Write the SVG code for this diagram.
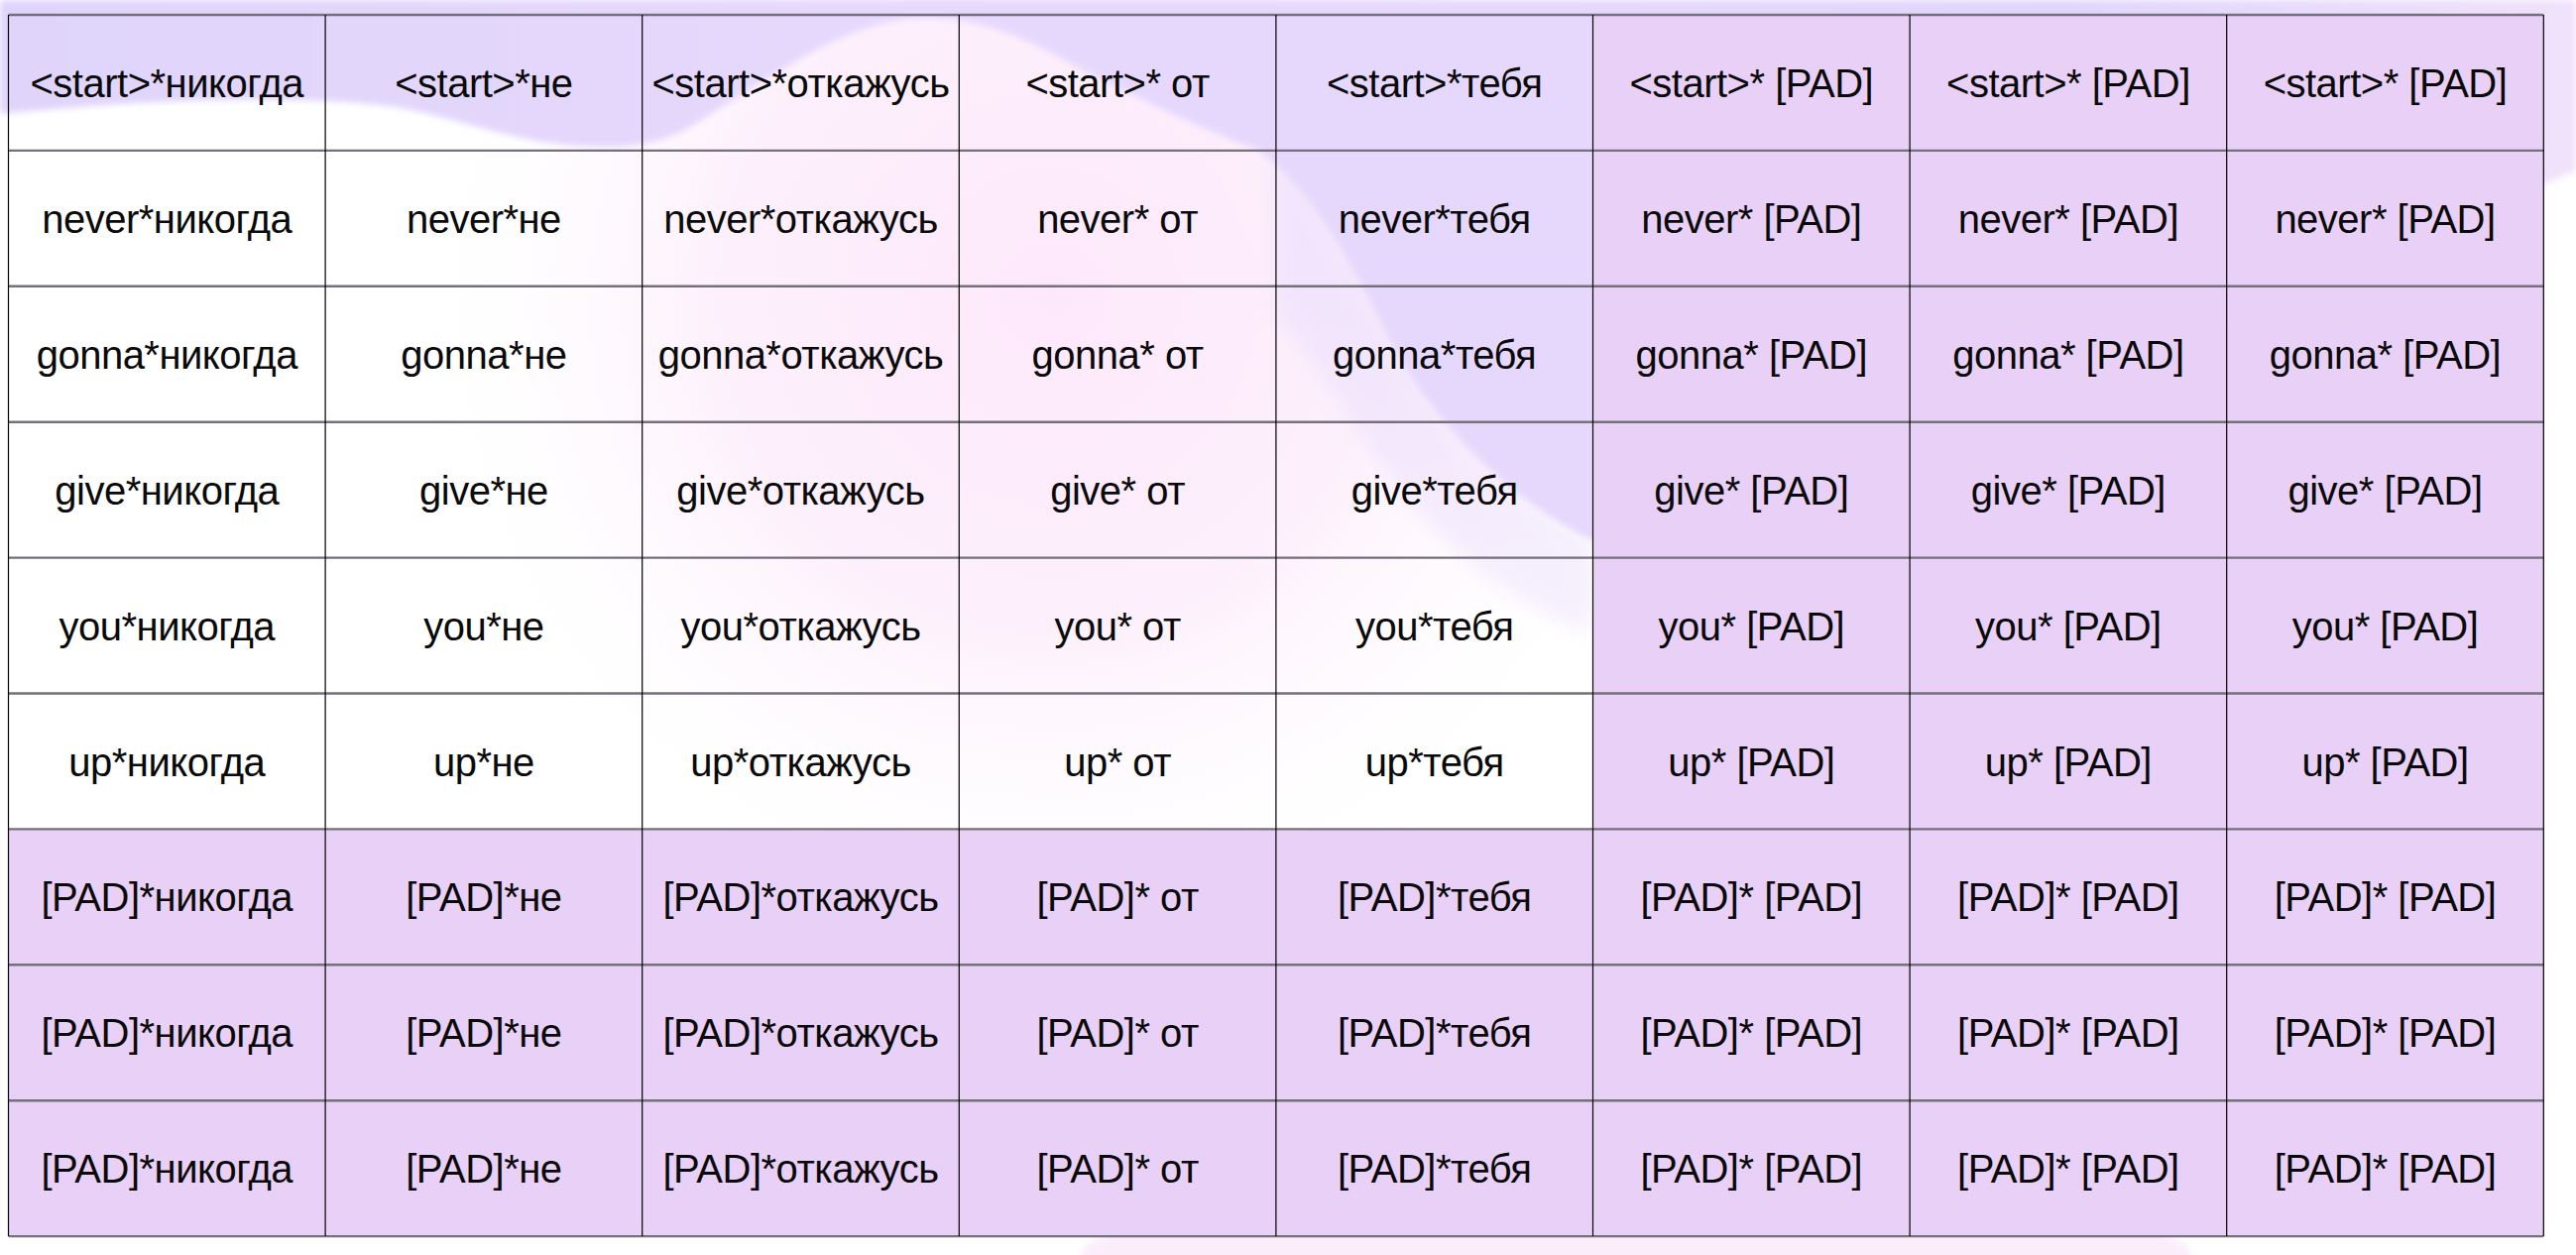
<svg xmlns="http://www.w3.org/2000/svg" width="2598" height="1266" viewBox="0 0 2598 1266">
<defs>
<style>
.t{font-family:"Liberation Sans",Arial,sans-serif;font-size:40px;letter-spacing:-0.5px;fill:#0a0a0a;text-anchor:middle}
.e{fill:none}
.p{fill:#e9d0f6}
.h{stroke:#74707c;stroke-width:2.4;fill:none}
.v{stroke:#000;stroke-width:1.2;fill:none}
</style>
<linearGradient id="lav" x1="0" y1="0" x2="1" y2="0">
<stop offset="0" stop-color="#e0d4fb"/>
<stop offset="0.35" stop-color="#e6d9fc"/>
<stop offset="0.6" stop-color="#e6d8fc"/>
<stop offset="0.8" stop-color="#e0d6fc"/>
<stop offset="1" stop-color="#f1e2fb"/>
</linearGradient>
<radialGradient id="pink" cx="1060" cy="300" r="660" gradientUnits="userSpaceOnUse">
<stop offset="0" stop-color="#fde8fb"/>
<stop offset="0.5" stop-color="#fdf0fc"/>
<stop offset="1" stop-color="#ffffff" stop-opacity="0"/>
</radialGradient>
<linearGradient id="lav2" x1="0" y1="0" x2="0" y2="1">
<stop offset="0" stop-color="#e6dafc"/>
<stop offset="1" stop-color="#efe3fc"/>
</linearGradient>
<filter id="soft" x="-10%" y="-10%" width="120%" height="120%"><feGaussianBlur stdDeviation="3"/></filter>
<filter id="softer" x="-20%" y="-20%" width="140%" height="140%"><feGaussianBlur stdDeviation="10"/></filter>
</defs>

<g id="background">
<rect x="0" y="0" width="2598" height="1266" fill="#ffffff"/>
<rect x="0" y="0" width="2598" height="1266" fill="url(#pink)"/>
<ellipse cx="1650" cy="1266" rx="560" ry="70" fill="#fcecfb" opacity="0.9" filter="url(#soft)"/>
<path d="M1287,160 C1330,200 1360,260 1400,330 C1450,420 1520,500 1606,545 L1606,640 C1500,600 1420,520 1360,420 C1330,370 1300,330 1287,320 Z" fill="url(#lav2)" opacity="0.55" filter="url(#softer)"/>
<path d="M0,0 H2598 V172 L1700,560 L1606,545 C1520,505 1440,420 1400,340 C1370,280 1330,200 1270,152 C1200,125 1150,100 1090,70 C1040,40 990,18 935,18 C860,18 790,70 712,118 C680,140 650,150 600,148 C520,146 460,118 400,108 C300,95 150,100 0,115 Z" fill="url(#lav)" filter="url(#soft)"/>
</g>

<g id="cells">
<g id="cell-r1-c1"><rect class="e" x="8.5" y="15" width="319.6" height="136.9"/><text class="t" x="168.3" y="98">&lt;start&gt;*никогда</text></g>
<g id="cell-r1-c2"><rect class="e" x="328.1" y="15" width="319.6" height="136.9"/><text class="t" x="487.9" y="98">&lt;start&gt;*не</text></g>
<g id="cell-r1-c3"><rect class="e" x="647.7" y="15" width="319.6" height="136.9"/><text class="t" x="807.5" y="98">&lt;start&gt;*откажусь</text></g>
<g id="cell-r1-c4"><rect class="e" x="967.3" y="15" width="319.6" height="136.9"/><text class="t" x="1127.1" y="98">&lt;start&gt;* от</text></g>
<g id="cell-r1-c5"><rect class="e" x="1286.9" y="15" width="319.6" height="136.9"/><text class="t" x="1446.7" y="98">&lt;start&gt;*тебя</text></g>
<g id="cell-r1-c6"><rect class="p" x="1606.5" y="15" width="319.6" height="136.9"/><text class="t" x="1766.3" y="98">&lt;start&gt;* [PAD]</text></g>
<g id="cell-r1-c7"><rect class="p" x="1926.1" y="15" width="319.6" height="136.9"/><text class="t" x="2085.9" y="98">&lt;start&gt;* [PAD]</text></g>
<g id="cell-r1-c8"><rect class="p" x="2245.7" y="15" width="319.6" height="136.9"/><text class="t" x="2405.5" y="98">&lt;start&gt;* [PAD]</text></g>

<g id="cell-r2-c1"><rect class="e" x="8.5" y="151.9" width="319.6" height="136.9"/><text class="t" x="168.3" y="234.9">never*никогда</text></g>
<g id="cell-r2-c2"><rect class="e" x="328.1" y="151.9" width="319.6" height="136.9"/><text class="t" x="487.9" y="234.9">never*не</text></g>
<g id="cell-r2-c3"><rect class="e" x="647.7" y="151.9" width="319.6" height="136.9"/><text class="t" x="807.5" y="234.9">never*откажусь</text></g>
<g id="cell-r2-c4"><rect class="e" x="967.3" y="151.9" width="319.6" height="136.9"/><text class="t" x="1127.1" y="234.9">never* от</text></g>
<g id="cell-r2-c5"><rect class="e" x="1286.9" y="151.9" width="319.6" height="136.9"/><text class="t" x="1446.7" y="234.9">never*тебя</text></g>
<g id="cell-r2-c6"><rect class="p" x="1606.5" y="151.9" width="319.6" height="136.9"/><text class="t" x="1766.3" y="234.9">never* [PAD]</text></g>
<g id="cell-r2-c7"><rect class="p" x="1926.1" y="151.9" width="319.6" height="136.9"/><text class="t" x="2085.9" y="234.9">never* [PAD]</text></g>
<g id="cell-r2-c8"><rect class="p" x="2245.7" y="151.9" width="319.6" height="136.9"/><text class="t" x="2405.5" y="234.9">never* [PAD]</text></g>

<g id="cell-r3-c1"><rect class="e" x="8.5" y="288.8" width="319.6" height="136.9"/><text class="t" x="168.3" y="371.8">gonna*никогда</text></g>
<g id="cell-r3-c2"><rect class="e" x="328.1" y="288.8" width="319.6" height="136.9"/><text class="t" x="487.9" y="371.8">gonna*не</text></g>
<g id="cell-r3-c3"><rect class="e" x="647.7" y="288.8" width="319.6" height="136.9"/><text class="t" x="807.5" y="371.8">gonna*откажусь</text></g>
<g id="cell-r3-c4"><rect class="e" x="967.3" y="288.8" width="319.6" height="136.9"/><text class="t" x="1127.1" y="371.8">gonna* от</text></g>
<g id="cell-r3-c5"><rect class="e" x="1286.9" y="288.8" width="319.6" height="136.9"/><text class="t" x="1446.7" y="371.8">gonna*тебя</text></g>
<g id="cell-r3-c6"><rect class="p" x="1606.5" y="288.8" width="319.6" height="136.9"/><text class="t" x="1766.3" y="371.8">gonna* [PAD]</text></g>
<g id="cell-r3-c7"><rect class="p" x="1926.1" y="288.8" width="319.6" height="136.9"/><text class="t" x="2085.9" y="371.8">gonna* [PAD]</text></g>
<g id="cell-r3-c8"><rect class="p" x="2245.7" y="288.8" width="319.6" height="136.9"/><text class="t" x="2405.5" y="371.8">gonna* [PAD]</text></g>

<g id="cell-r4-c1"><rect class="e" x="8.5" y="425.7" width="319.6" height="136.9"/><text class="t" x="168.3" y="508.7">give*никогда</text></g>
<g id="cell-r4-c2"><rect class="e" x="328.1" y="425.7" width="319.6" height="136.9"/><text class="t" x="487.9" y="508.7">give*не</text></g>
<g id="cell-r4-c3"><rect class="e" x="647.7" y="425.7" width="319.6" height="136.9"/><text class="t" x="807.5" y="508.7">give*откажусь</text></g>
<g id="cell-r4-c4"><rect class="e" x="967.3" y="425.7" width="319.6" height="136.9"/><text class="t" x="1127.1" y="508.7">give* от</text></g>
<g id="cell-r4-c5"><rect class="e" x="1286.9" y="425.7" width="319.6" height="136.9"/><text class="t" x="1446.7" y="508.7">give*тебя</text></g>
<g id="cell-r4-c6"><rect class="p" x="1606.5" y="425.7" width="319.6" height="136.9"/><text class="t" x="1766.3" y="508.7">give* [PAD]</text></g>
<g id="cell-r4-c7"><rect class="p" x="1926.1" y="425.7" width="319.6" height="136.9"/><text class="t" x="2085.9" y="508.7">give* [PAD]</text></g>
<g id="cell-r4-c8"><rect class="p" x="2245.7" y="425.7" width="319.6" height="136.9"/><text class="t" x="2405.5" y="508.7">give* [PAD]</text></g>

<g id="cell-r5-c1"><rect class="e" x="8.5" y="562.6" width="319.6" height="136.9"/><text class="t" x="168.3" y="645.6">you*никогда</text></g>
<g id="cell-r5-c2"><rect class="e" x="328.1" y="562.6" width="319.6" height="136.9"/><text class="t" x="487.9" y="645.6">you*не</text></g>
<g id="cell-r5-c3"><rect class="e" x="647.7" y="562.6" width="319.6" height="136.9"/><text class="t" x="807.5" y="645.6">you*откажусь</text></g>
<g id="cell-r5-c4"><rect class="e" x="967.3" y="562.6" width="319.6" height="136.9"/><text class="t" x="1127.1" y="645.6">you* от</text></g>
<g id="cell-r5-c5"><rect class="e" x="1286.9" y="562.6" width="319.6" height="136.9"/><text class="t" x="1446.7" y="645.6">you*тебя</text></g>
<g id="cell-r5-c6"><rect class="p" x="1606.5" y="562.6" width="319.6" height="136.9"/><text class="t" x="1766.3" y="645.6">you* [PAD]</text></g>
<g id="cell-r5-c7"><rect class="p" x="1926.1" y="562.6" width="319.6" height="136.9"/><text class="t" x="2085.9" y="645.6">you* [PAD]</text></g>
<g id="cell-r5-c8"><rect class="p" x="2245.7" y="562.6" width="319.6" height="136.9"/><text class="t" x="2405.5" y="645.6">you* [PAD]</text></g>

<g id="cell-r6-c1"><rect class="e" x="8.5" y="699.5" width="319.6" height="136.9"/><text class="t" x="168.3" y="782.5">up*никогда</text></g>
<g id="cell-r6-c2"><rect class="e" x="328.1" y="699.5" width="319.6" height="136.9"/><text class="t" x="487.9" y="782.5">up*не</text></g>
<g id="cell-r6-c3"><rect class="e" x="647.7" y="699.5" width="319.6" height="136.9"/><text class="t" x="807.5" y="782.5">up*откажусь</text></g>
<g id="cell-r6-c4"><rect class="e" x="967.3" y="699.5" width="319.6" height="136.9"/><text class="t" x="1127.1" y="782.5">up* от</text></g>
<g id="cell-r6-c5"><rect class="e" x="1286.9" y="699.5" width="319.6" height="136.9"/><text class="t" x="1446.7" y="782.5">up*тебя</text></g>
<g id="cell-r6-c6"><rect class="p" x="1606.5" y="699.5" width="319.6" height="136.9"/><text class="t" x="1766.3" y="782.5">up* [PAD]</text></g>
<g id="cell-r6-c7"><rect class="p" x="1926.1" y="699.5" width="319.6" height="136.9"/><text class="t" x="2085.9" y="782.5">up* [PAD]</text></g>
<g id="cell-r6-c8"><rect class="p" x="2245.7" y="699.5" width="319.6" height="136.9"/><text class="t" x="2405.5" y="782.5">up* [PAD]</text></g>

<g id="cell-r7-c1"><rect class="p" x="8.5" y="836.4" width="319.6" height="136.9"/><text class="t" x="168.3" y="919.4">[PAD]*никогда</text></g>
<g id="cell-r7-c2"><rect class="p" x="328.1" y="836.4" width="319.6" height="136.9"/><text class="t" x="487.9" y="919.4">[PAD]*не</text></g>
<g id="cell-r7-c3"><rect class="p" x="647.7" y="836.4" width="319.6" height="136.9"/><text class="t" x="807.5" y="919.4">[PAD]*откажусь</text></g>
<g id="cell-r7-c4"><rect class="p" x="967.3" y="836.4" width="319.6" height="136.9"/><text class="t" x="1127.1" y="919.4">[PAD]* от</text></g>
<g id="cell-r7-c5"><rect class="p" x="1286.9" y="836.4" width="319.6" height="136.9"/><text class="t" x="1446.7" y="919.4">[PAD]*тебя</text></g>
<g id="cell-r7-c6"><rect class="p" x="1606.5" y="836.4" width="319.6" height="136.9"/><text class="t" x="1766.3" y="919.4">[PAD]* [PAD]</text></g>
<g id="cell-r7-c7"><rect class="p" x="1926.1" y="836.4" width="319.6" height="136.9"/><text class="t" x="2085.9" y="919.4">[PAD]* [PAD]</text></g>
<g id="cell-r7-c8"><rect class="p" x="2245.7" y="836.4" width="319.6" height="136.9"/><text class="t" x="2405.5" y="919.4">[PAD]* [PAD]</text></g>

<g id="cell-r8-c1"><rect class="p" x="8.5" y="973.3" width="319.6" height="136.9"/><text class="t" x="168.3" y="1056.3">[PAD]*никогда</text></g>
<g id="cell-r8-c2"><rect class="p" x="328.1" y="973.3" width="319.6" height="136.9"/><text class="t" x="487.9" y="1056.3">[PAD]*не</text></g>
<g id="cell-r8-c3"><rect class="p" x="647.7" y="973.3" width="319.6" height="136.9"/><text class="t" x="807.5" y="1056.3">[PAD]*откажусь</text></g>
<g id="cell-r8-c4"><rect class="p" x="967.3" y="973.3" width="319.6" height="136.9"/><text class="t" x="1127.1" y="1056.3">[PAD]* от</text></g>
<g id="cell-r8-c5"><rect class="p" x="1286.9" y="973.3" width="319.6" height="136.9"/><text class="t" x="1446.7" y="1056.3">[PAD]*тебя</text></g>
<g id="cell-r8-c6"><rect class="p" x="1606.5" y="973.3" width="319.6" height="136.9"/><text class="t" x="1766.3" y="1056.3">[PAD]* [PAD]</text></g>
<g id="cell-r8-c7"><rect class="p" x="1926.1" y="973.3" width="319.6" height="136.9"/><text class="t" x="2085.9" y="1056.3">[PAD]* [PAD]</text></g>
<g id="cell-r8-c8"><rect class="p" x="2245.7" y="973.3" width="319.6" height="136.9"/><text class="t" x="2405.5" y="1056.3">[PAD]* [PAD]</text></g>

<g id="cell-r9-c1"><rect class="p" x="8.5" y="1110.2" width="319.6" height="136.9"/><text class="t" x="168.3" y="1193.2">[PAD]*никогда</text></g>
<g id="cell-r9-c2"><rect class="p" x="328.1" y="1110.2" width="319.6" height="136.9"/><text class="t" x="487.9" y="1193.2">[PAD]*не</text></g>
<g id="cell-r9-c3"><rect class="p" x="647.7" y="1110.2" width="319.6" height="136.9"/><text class="t" x="807.5" y="1193.2">[PAD]*откажусь</text></g>
<g id="cell-r9-c4"><rect class="p" x="967.3" y="1110.2" width="319.6" height="136.9"/><text class="t" x="1127.1" y="1193.2">[PAD]* от</text></g>
<g id="cell-r9-c5"><rect class="p" x="1286.9" y="1110.2" width="319.6" height="136.9"/><text class="t" x="1446.7" y="1193.2">[PAD]*тебя</text></g>
<g id="cell-r9-c6"><rect class="p" x="1606.5" y="1110.2" width="319.6" height="136.9"/><text class="t" x="1766.3" y="1193.2">[PAD]* [PAD]</text></g>
<g id="cell-r9-c7"><rect class="p" x="1926.1" y="1110.2" width="319.6" height="136.9"/><text class="t" x="2085.9" y="1193.2">[PAD]* [PAD]</text></g>
<g id="cell-r9-c8"><rect class="p" x="2245.7" y="1110.2" width="319.6" height="136.9"/><text class="t" x="2405.5" y="1193.2">[PAD]* [PAD]</text></g>
</g>

<g id="grid-lines">
<path class="h" d="M8.5,15 H2565.3 M8.5,151.9 H2565.3 M8.5,288.8 H2565.3 M8.5,425.7 H2565.3 M8.5,562.6 H2565.3 M8.5,699.5 H2565.3 M8.5,836.4 H2565.3 M8.5,973.3 H2565.3 M8.5,1110.2 H2565.3 M8.5,1247.1 H2565.3"/>
<path class="v" d="M8.5,15 V1247.1 M328.1,15 V1247.1 M647.7,15 V1247.1 M967.3,15 V1247.1 M1286.9,15 V1247.1 M1606.5,15 V1247.1 M1926.1,15 V1247.1 M2245.7,15 V1247.1 M2565.3,15 V1247.1"/>
</g>
</svg>
